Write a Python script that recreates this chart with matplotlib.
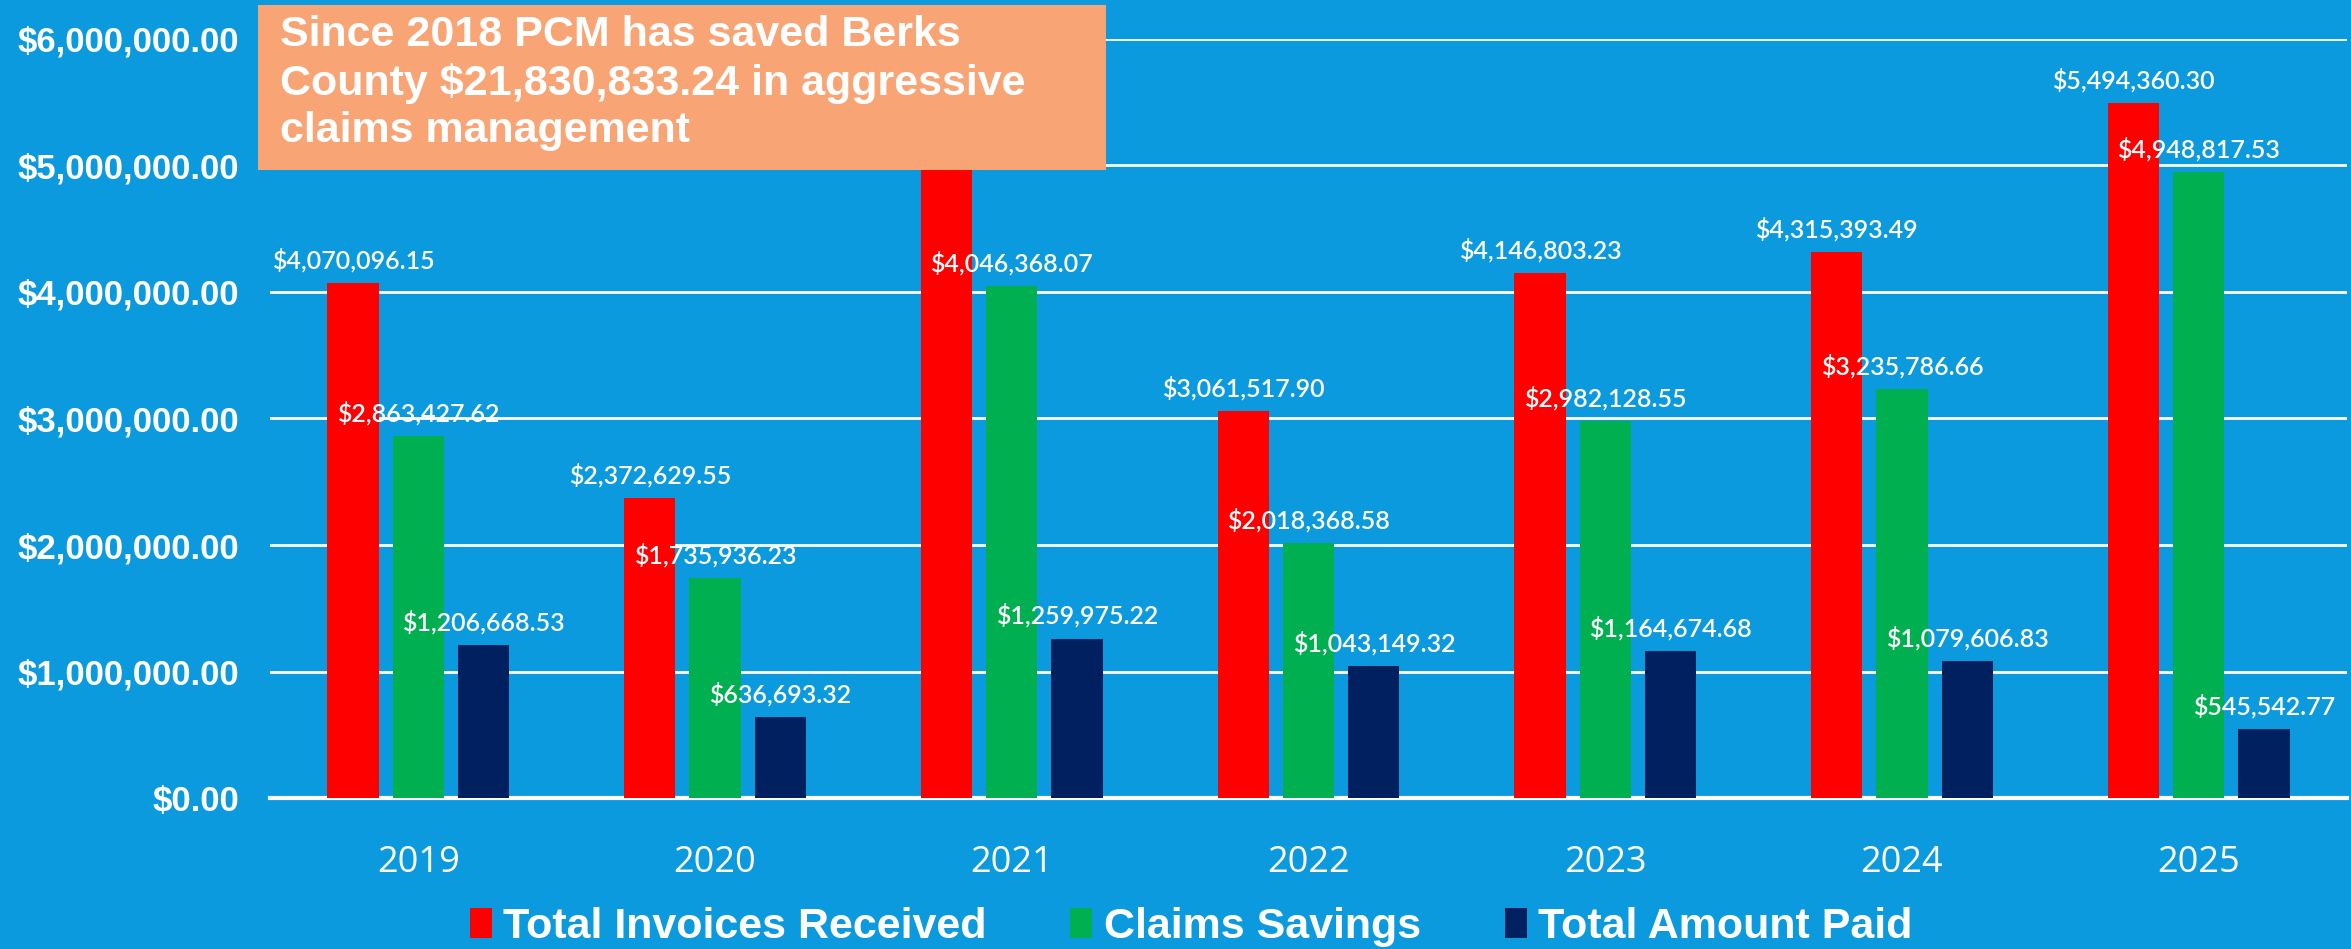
import matplotlib
matplotlib.use("Agg")
import matplotlib.pyplot as plt
import numpy as np
from matplotlib.patches import Rectangle

years = ["2019", "2020", "2021", "2022", "2023", "2024", "2025"]
invoices = [4070096.15, 2372629.55, 5306343.29, 3061517.90, 4146803.23, 4315393.49, 5494360.30]
savings = [2863427.62, 1735936.23, 4046368.07, 2018368.58, 2982128.55, 3235786.66, 4948817.53]
paid = [1206668.53, 636693.32, 1259975.22, 1043149.32, 1164674.68, 1079606.83, 545542.77]
series_names = ["Total Invoices Received", "Claims Savings", "Total Amount Paid"]
colors = ["#FF0000", "#00B050", "#002060"]
yticks = [0, 1e6, 2e6, 3e6, 4e6, 5e6, 6e6]
box_text = "Since 2018 PCM has saved Berks\nCounty $21,830,833.24 in aggressive\nclaims management"

BG = "#0C9ADF"
W, H = 2351, 949
fig = plt.figure(figsize=(W / 100, H / 100), dpi=100, facecolor=BG)
ax = fig.add_axes([270 / W, (H - 798) / H, (2347 - 270) / W, (798 - 39) / H])
ax.set_facecolor(BG)

x = np.arange(len(years))
width = 0.173
offsets = [-0.22, 0.0, 0.22]
for vals, off, c, name in zip([invoices, savings, paid], offsets, colors, series_names):
    ax.bar(x + off, vals, width, color=c, label=name, zorder=3)
    for xi, v in zip(x + off, vals):
        ax.annotate(f"${v:,.2f}", (xi, v), xytext=(0, 16.5), textcoords="offset points",
                    ha="center", va="center", color="white", fontsize=18,
                    family="Lato", fontweight="semibold", zorder=4, annotation_clip=False)

ax.set_xlim(-0.5, len(years) - 0.5)
ax.set_ylim(0, 6e6)
ax.set_yticks(yticks)
ax.set_yticklabels([f"${v:,.2f}" for v in yticks], fontsize=25, fontweight="bold",
                   family="Liberation Sans", color="white")
ax.set_xticks(x)
ax.set_xticklabels(years, fontsize=26, family="Open Sans", color="white")
ax.tick_params(axis="y", length=0, pad=22)
ax.tick_params(axis="x", length=0, pad=34)
ax.grid(axis="y", color="white", linewidth=2, zorder=1)
for s in ["top", "right", "left"]:
    ax.spines[s].set_visible(False)
ax.spines["bottom"].set_color("white")
ax.spines["bottom"].set_linewidth(3)
ax.set_axisbelow(True)

leg = fig.legend(loc="center", bbox_to_anchor=(1191 / W, (H - 927) / H), ncol=3, frameon=False,
                 prop={"family": "Liberation Sans", "weight": "bold", "size": 31},
                 handlelength=0.51, handleheight=0.7, handletextpad=0.26, columnspacing=1.95)
for t in leg.get_texts():
    t.set_color("white")

rect = Rectangle((258 / W, (H - 170) / H), (1106 - 258) / W, (170 - 5) / H,
                 transform=fig.transFigure, facecolor="#F9A474", edgecolor="none", zorder=10)
fig.patches.append(rect)
fig.text(280 / W, (H - 15) / H, box_text, ha="left", va="top", color="white",
         fontsize=31, fontweight="bold", family="Liberation Sans", linespacing=1.24, zorder=11)

fig.savefig("out.png", dpi=100, facecolor=BG)
